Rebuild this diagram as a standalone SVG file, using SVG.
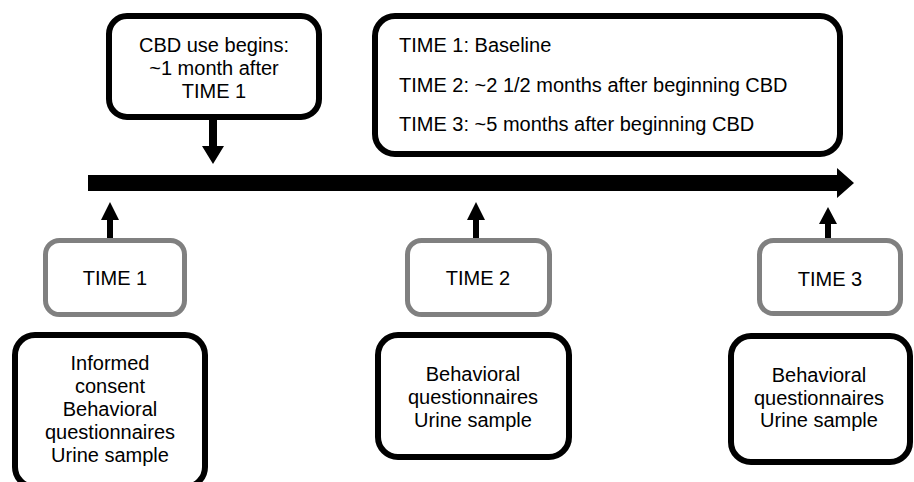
<svg xmlns="http://www.w3.org/2000/svg" width="914" height="482" viewBox="0 0 914 482">
<style>
.blk{fill:#fff;stroke:#000;stroke-width:6}
.gry{fill:#fff;stroke:#808080;stroke-width:5}
text{font-family:"Liberation Sans",Arial,sans-serif;font-size:20px;fill:#000}
.c{text-anchor:middle}
.arr{fill:#000;stroke:none}
</style>
<rect width="914" height="482" fill="#fff"/>
<g id="connectors">
  <path class="arr" d="M88,175 H837 V168 L854,183 L837,198 V191 H88 Z"/>
  <path class="arr" d="M209,118 H217 V146 H224 L213,164 L202,146 H209 Z"/>
  <path class="arr" d="M107,240 V220 H101 L110,202 L119,220 H113 V240 Z"/>
  <path class="arr" d="M473,240 V220 H467 L476,202 L485,220 H479 V240 Z"/>
  <path class="arr" d="M825,240 V224 H819 L828,207 L837,224 H831 V240 Z"/>
</g>
<g id="cbd">
  <rect class="blk" x="109" y="16" width="210" height="101" rx="18"/>
  <text class="c" x="214" y="52">CBD use begins:</text>
  <text class="c" x="214" y="75">~1 month after</text>
  <text class="c" x="214" y="98">TIME 1</text>
</g>
<g id="legend">
  <rect class="blk" x="375" y="16" width="465" height="138" rx="20"/>
  <text x="399" y="52">TIME 1: Baseline</text>
  <text x="399" y="92">TIME 2: ~2 1/2 months after beginning CBD</text>
  <text x="399" y="131">TIME 3: ~5 months after beginning CBD</text>
</g>
<g id="time1">
  <rect class="gry" x="45.5" y="240.5" width="139" height="74" rx="14"/>
  <text class="c" x="115" y="285">TIME 1</text>
</g>
<g id="time2">
  <rect class="gry" x="407.5" y="240.5" width="142" height="74" rx="14"/>
  <text class="c" x="478" y="285">TIME 2</text>
</g>
<g id="time3">
  <rect class="gry" x="759.5" y="240.5" width="141" height="73" rx="14"/>
  <text class="c" x="830" y="286">TIME 3</text>
</g>
<g id="tasks1">
  <rect class="blk" x="15" y="335" width="190" height="152" rx="20"/>
  <text class="c" x="110" y="370">Informed</text>
  <text class="c" x="110" y="393">consent</text>
  <text class="c" x="110" y="416">Behavioral</text>
  <text class="c" x="110" y="439">questionnaires</text>
  <text class="c" x="110" y="462">Urine sample</text>
</g>
<g id="tasks2">
  <rect class="blk" x="378" y="335" width="191" height="122" rx="20"/>
  <text class="c" x="473" y="381">Behavioral</text>
  <text class="c" x="473" y="404">questionnaires</text>
  <text class="c" x="473" y="427">Urine sample</text>
</g>
<g id="tasks3">
  <rect class="blk" x="731" y="336" width="179" height="126" rx="20"/>
  <text class="c" x="819" y="382">Behavioral</text>
  <text class="c" x="819" y="405">questionnaires</text>
  <text class="c" x="819" y="427">Urine sample</text>
</g>
</svg>
